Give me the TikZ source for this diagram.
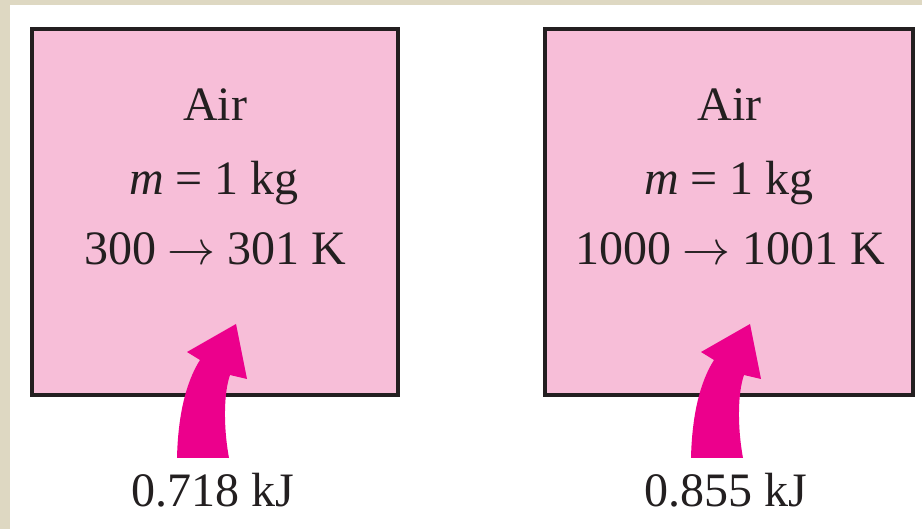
\documentclass[tikz,border=0pt]{standalone}
\usepackage{fontspec}
\setmainfont{Liberation Serif}
\definecolor{beige}{RGB}{222,216,194}
\definecolor{boxpink}{RGB}{247,190,216}
\definecolor{heatmag}{RGB}{236,0,140}
\definecolor{inkgray}{RGB}{35,31,32}
\newcommand{\bigarrow}{\scalebox{4.8}{\fontsize{10}{12}\selectfont$\rightarrow$}}
\tikzset{
  sysbox/.style={draw=inkgray, line width=4pt, fill=boxpink},
  txt/.style={anchor=base, inner sep=0pt, text=inkgray, font=\fontsize{48}{58}\selectfont},
  heatarrow/.style={fill=heatmag, draw=none}
}
\begin{document}
\begin{tikzpicture}[x=1pt,y=-1pt]
\useasboundingbox (0,0) rectangle (922,529);
\fill[white] (0,0) rectangle (922,529);
\fill[beige] (0,0) rectangle (922,5);
\fill[beige] (0,0) rectangle (10,529);
% boxes
\draw[sysbox] (32,29.5) rectangle (398,395);
\draw[sysbox] (545,29.5) rectangle (913,395);
% left box texts
\node[txt] (air1) at (215,121) {Air};
\node[txt] (mass1) at (214,195) {\textit{m} = 1 kg};
\node[txt] (temp1) at (215,265) {300\hspace{0.24em}\bigarrow\hspace{0.24em}301 K};
\node[txt] (q1) at (213,507) {0.718 kJ};
% right box texts
\node[txt] (air2) at (729.5,121) {Air};
\node[txt] (mass2) at (729,195) {\textit{m} = 1 kg};
\node[txt] (temp2) at (730,265) {1000\hspace{0.24em}\bigarrow\hspace{0.24em}1001 K};
\node[txt] (q2) at (726,507) {0.855 kJ};
% heat arrows
\foreach \dx in {0,514}{
\begin{scope}[xshift=\dx]
\fill[heatarrow] (177,458) .. controls (178,415) and (186,382) .. (200,360)
  -- (187,352) -- (236,324) -- (247,379) -- (230,375)
  .. controls (224,392) and (223,425) .. (229,458) -- cycle;
\end{scope}}
\end{tikzpicture}
\end{document}
